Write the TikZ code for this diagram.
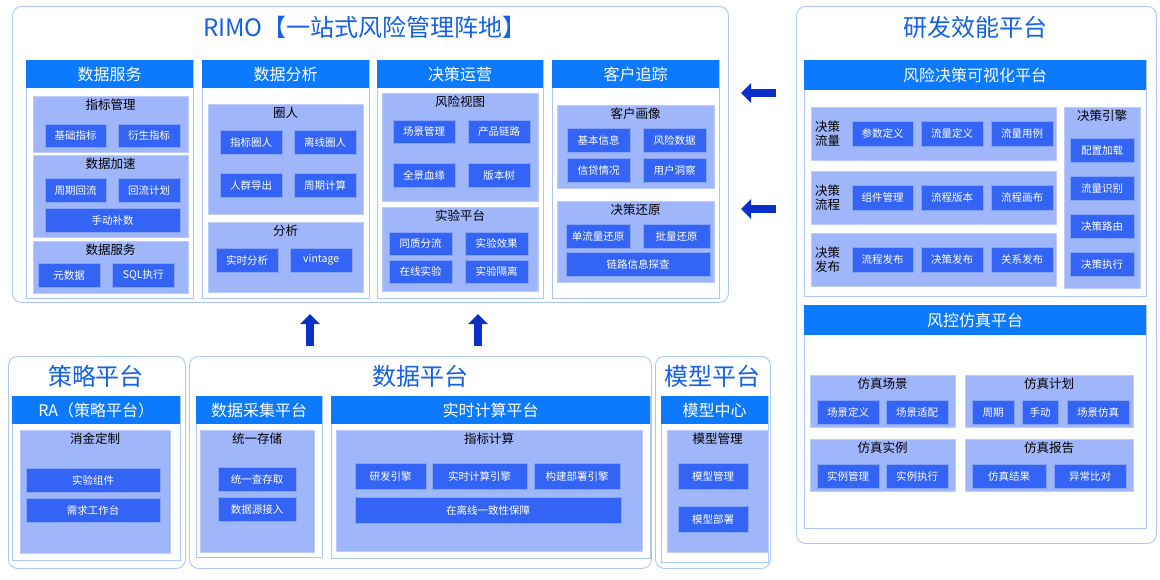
\documentclass[tikz,border=0pt]{standalone}
\usepackage{fontspec}
\setmainfont{Noto Sans CJK SC}
\usetikzlibrary{arrows.meta}

\definecolor{hdblue}{RGB}{12,122,255}
\definecolor{grpblue}{RGB}{160,182,250}
\definecolor{itmblue}{RGB}{52,100,245}
\definecolor{rimline}{RGB}{172,198,250}
\definecolor{ttlblue}{RGB}{20,96,230}
\definecolor{arrblue}{RGB}{10,48,200}

\tikzset{
  outer/.style={draw=rimline, line width=0.9pt, rounded corners=9pt, fill=white},
  body/.style={draw=rimline, line width=0.7pt, fill=white},
  hdr/.style={fill=hdblue, text=white, font=\fontsize{16}{16}\selectfont},
  grp/.style={fill=grpblue, draw=grpblue!70!white},
  grptxt/.style={font=\fontsize{12.5}{14}\selectfont, text=black, inner sep=1pt},
  itm/.style={fill=itmblue, draw=itmblue!60!white, text=white, font=\fontsize{10.5}{10.5}\selectfont},
  ttl/.style={text=ttlblue, font=\fontsize{24}{24}\selectfont},
  bigarr/.style={arrblue, line width=8pt, -{Triangle[length=10pt,width=19pt]}}
}

% box from its corners (x1,y1)-(x2,y2), y counted downward
\newcommand{\bx}[7]{\node[#1, anchor=north west, inner sep=0pt,
  minimum width={((#5)-(#3))*1pt}, minimum height={((#6)-(#4))*1pt}] (#2) at (#3,#4) {#7};}
% group with its title on top
\newcommand{\grpbox}[6]{\bx{grp}{#1}{#2}{#3}{#4}{#5}{}
  \node[grptxt, anchor=north] (#1t) at ([yshift=-2pt]#1.north) {#6};}

\begin{document}
\begin{tikzpicture}[x=1pt, y=-1pt]
\useasboundingbox (0,0) rectangle (1160,580);

% RIMO
\bx{outer}{rimo}{12}{6}{728}{302}{}
\node[ttl] (rimot) at (365,27) {RIMO【一站式风险管理阵地】};

\bx{body}{c1}{26}{60}{193}{298}{}
\bx{hdr}{c1h}{26}{60}{193}{88}{数据服务}
\grpbox{g11}{33}{96}{188}{152}{指标管理}
\bx{itm}{i111}{45}{124}{106}{147}{基础指标}
\bx{itm}{i112}{118}{124}{180}{147}{衍生指标}
\grpbox{g12}{33}{155}{188}{237}{数据加速}
\bx{itm}{i121}{45}{178}{106}{202}{周期回流}
\bx{itm}{i122}{118}{178}{180}{202}{回流计划}
\bx{itm}{i123}{45}{208}{180}{232}{手动补数}
\grpbox{g13}{33}{241}{188}{293}{数据服务}
\bx{itm}{i131}{38}{263}{100}{287}{元数据}
\bx{itm}{i132}{112}{263}{174}{287}{SQL执行}

\bx{body}{c2}{202}{60}{369}{298}{}
\bx{hdr}{c2h}{202}{60}{369}{88}{数据分析}
\grpbox{g21}{208}{104}{363}{214}{圈人}
\bx{itm}{i211}{220}{130}{282}{154}{指标圈人}
\bx{itm}{i212}{294}{130}{356}{154}{离线圈人}
\bx{itm}{i213}{220}{173}{282}{197}{人群导出}
\bx{itm}{i214}{294}{173}{356}{197}{周期计算}
\grpbox{g22}{208}{222}{363}{292}{分析}
\bx{itm}{i221}{216}{248}{278}{272}{实时分析}
\bx{itm}{i222}{290}{248}{352}{272}{vintage}

\bx{body}{c3}{377}{60}{543}{298}{}
\bx{hdr}{c3h}{377}{60}{543}{88}{决策运营}
\grpbox{g31}{382}{93}{538}{201}{风险视图}
\bx{itm}{i311}{393}{120}{455}{143}{场景管理}
\bx{itm}{i312}{468}{120}{530}{143}{产品链路}
\bx{itm}{i313}{393}{163}{455}{187}{全景血缘}
\bx{itm}{i314}{468}{163}{530}{187}{版本树}
\grpbox{g32}{382}{207}{538}{291}{实验平台}
\bx{itm}{i321}{389}{232}{452}{255}{同质分流}
\bx{itm}{i322}{465}{232}{528}{255}{实验效果}
\bx{itm}{i323}{389}{260}{452}{283}{在线实验}
\bx{itm}{i324}{465}{260}{528}{283}{实验隔离}

\bx{body}{c4}{552}{60}{719}{298}{}
\bx{hdr}{c4h}{552}{60}{719}{88}{客户追踪}
\grpbox{g41}{557}{105}{714}{188}{客户画像}
\bx{itm}{i411}{567}{128}{630}{152}{基本信息}
\bx{itm}{i412}{643}{128}{706}{152}{风险数据}
\bx{itm}{i413}{567}{158}{630}{182}{信贷情况}
\bx{itm}{i414}{643}{158}{706}{182}{用户洞察}
\grpbox{g42}{557}{201}{714}{282}{决策还原}
\bx{itm}{i421}{566}{224}{630}{248}{单流量还原}
\bx{itm}{i422}{643}{224}{710}{248}{批量还原}
\bx{itm}{i423}{566}{252}{710}{276}{链路信息探查}

% 研发效能平台
\bx{outer}{yf}{796}{6}{1156}{543}{}
\node[ttl] (yft) at (975,27) {研发效能平台};
\bx{body}{v}{804}{60}{1146}{296}{}
\bx{hdr}{vh}{804}{60}{1146}{90}{风险决策可视化平台}
\foreach \n/\ya/\yb/\la/\lb/\a/\b/\c in {
  1/107/160/决策/流量/参数定义/流量定义/流量用例,
  2/171/224/决策/流程/组件管理/流程版本/流程画布,
  3/233/286/决策/发布/流程发布/决策发布/关系发布}{
  \bx{grp}{vg\n}{811}{\ya}{1056}{\yb}{}
  \node[grptxt, anchor=west, align=left] (vg\n t) at ([xshift=3pt]vg\n.west) {\la\\\lb};
  \bx{itm}{vi\n a}{852}{\ya+14}{913}{\yb-14}{\a}
  \bx{itm}{vi\n b}{921}{\ya+14}{983}{\yb-14}{\b}
  \bx{itm}{vi\n c}{991}{\ya+14}{1053}{\yb-14}{\c}
}
\grpbox{ve}{1064}{107}{1140}{288}{决策引擎}
\foreach \n/\ya/\t in {1/138/配置加载, 2/176/流量识别, 3/214/决策路由, 4/252/决策执行}{
  \bx{itm}{vei\n}{1070}{\ya}{1134}{\ya+24}{\t}
}

\bx{body}{s}{804}{305}{1146}{528}{}
\bx{hdr}{sh}{804}{305}{1146}{335}{风控仿真平台}
\grpbox{sg1}{810}{375}{955}{427}{仿真场景}
\bx{itm}{si11}{817}{400}{879}{424}{场景定义}
\bx{itm}{si12}{886}{400}{948}{424}{场景适配}
\grpbox{sg2}{965}{375}{1133}{427}{仿真计划}
\bx{itm}{si21}{972}{400}{1014}{424}{周期}
\bx{itm}{si22}{1022}{400}{1058}{424}{手动}
\bx{itm}{si23}{1067}{400}{1129}{424}{场景仿真}
\grpbox{sg3}{810}{439}{955}{491}{仿真实例}
\bx{itm}{si31}{817}{464}{879}{488}{实例管理}
\bx{itm}{si32}{886}{464}{948}{488}{实例执行}
\grpbox{sg4}{965}{439}{1133}{491}{仿真报告}
\bx{itm}{si41}{972}{464}{1046}{488}{仿真结果}
\bx{itm}{si42}{1054}{464}{1126}{488}{异常比对}

% 策略平台
\bx{outer}{cl}{8}{356}{185}{568}{}
\node[ttl] (clt) at (96,376) {策略平台};
\bx{body}{clb}{12}{396}{180}{560}{}
\bx{hdr}{clh}{12}{396}{180}{424}{RA（策略平台）}
\grpbox{clg}{20}{430}{170}{553}{消金定制}
\bx{itm}{cli1}{26}{468}{160}{492}{实验组件}
\bx{itm}{cli2}{26}{498}{160}{522}{需求工作台}

% 数据平台
\bx{outer}{sj}{189}{356}{651}{568}{}
\node[ttl] (sjt) at (420,376) {数据平台};
\bx{body}{cjb}{196}{396}{322}{557}{}
\bx{hdr}{cjh}{196}{396}{322}{424}{数据采集平台}
\grpbox{cjg}{200}{430}{314}{552}{统一存储}
\bx{itm}{cji1}{218}{467}{296}{491}{统一查存取}
\bx{itm}{cji2}{218}{497}{296}{521}{数据源接入}
\bx{body}{ssb}{331}{396}{650}{558}{}
\bx{hdr}{ssh}{331}{396}{650}{424}{实时计算平台}
\grpbox{ssg}{336}{430}{642}{551}{指标计算}
\bx{itm}{ssi1}{355}{463}{426}{489}{研发引擎}
\bx{itm}{ssi2}{432}{463}{527}{489}{实时计算引擎}
\bx{itm}{ssi3}{534}{463}{620}{489}{构建部署引擎}
\bx{itm}{ssi4}{355}{497}{621}{523}{在离线一致性保障}

% 模型平台
\bx{outer}{mx}{655}{356}{770}{568}{}
\node[ttl] (mxt) at (712,376) {模型平台};
\bx{body}{mxb}{661}{396}{768}{562}{}
\bx{hdr}{mxh}{661}{396}{768}{424}{模型中心}
\grpbox{mxg}{667}{430}{768}{552}{模型管理}
\bx{itm}{mxi1}{678}{463}{748}{489}{模型管理}
\bx{itm}{mxi2}{678}{506}{748}{532}{模型部署}

% arrows
\coordinate (a1s) at (776,93);  \coordinate (a1e) at (741,93);
\coordinate (a2s) at (776,209); \coordinate (a2e) at (741,209);
\coordinate (a3s) at (310,346); \coordinate (a3e) at (310,314);
\coordinate (a4s) at (478,346); \coordinate (a4e) at (478,314);
\foreach \k in {1,2,3,4} \draw[bigarr] (a\k s) -- (a\k e);

\end{tikzpicture}
\end{document}
